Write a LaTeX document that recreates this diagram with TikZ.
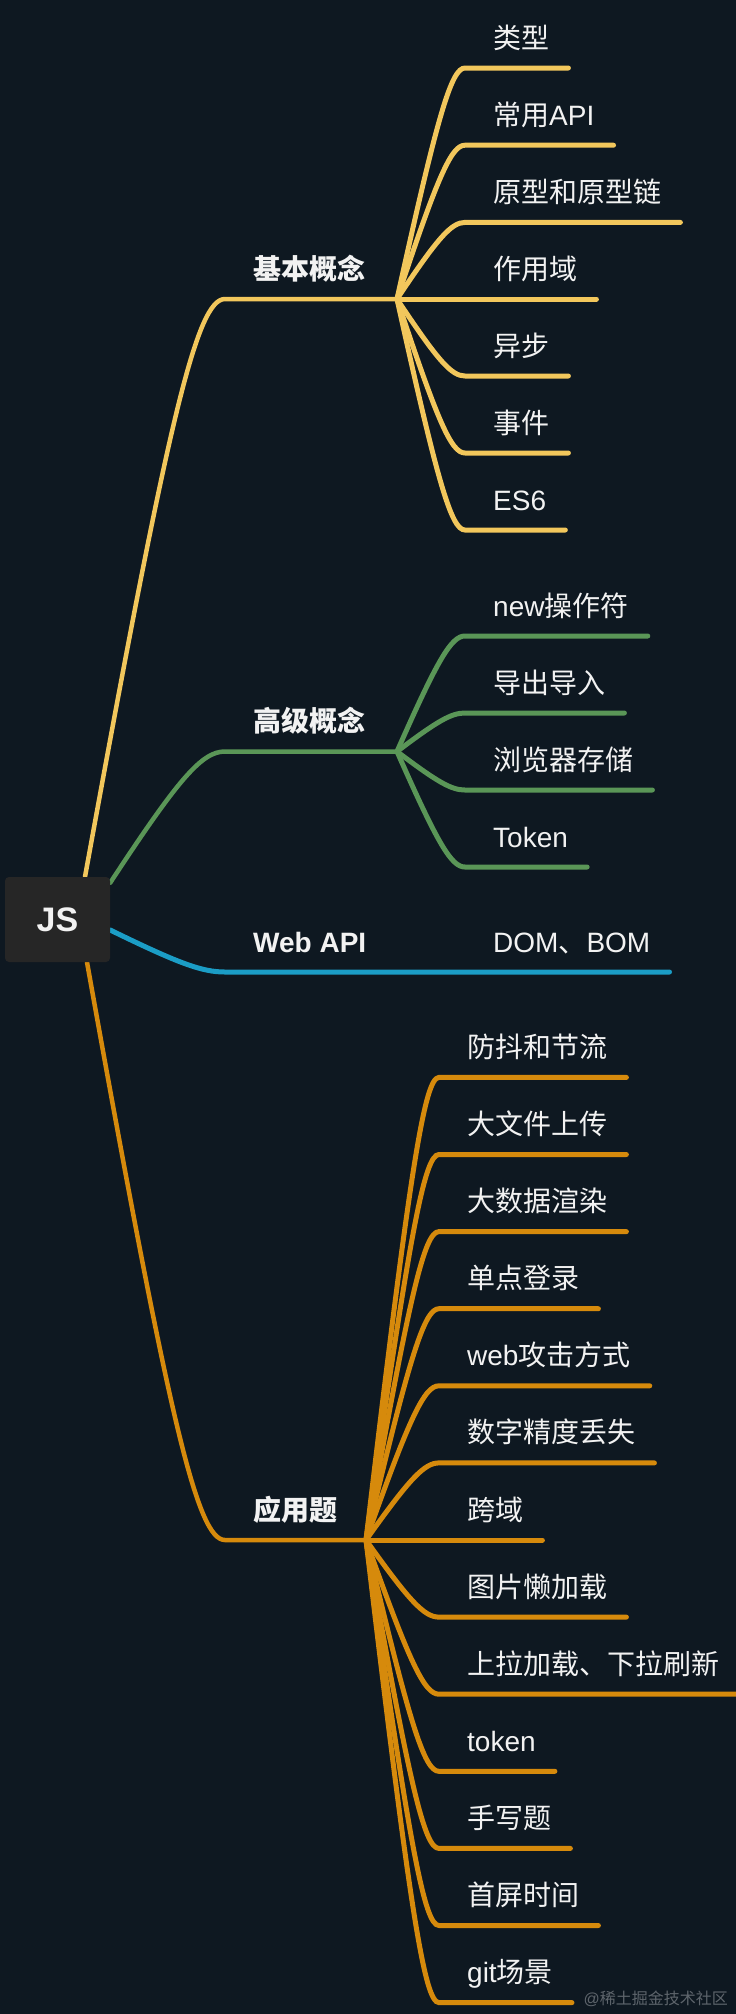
\documentclass[tikz,border=0pt]{standalone}
\usepackage{fontspec}
\setmainfont{Liberation Sans}
\newfontfamily\cjk{Noto Sans CJK SC}
\usetikzlibrary{calc}
\pgfdeclarelayer{bg}
\pgfsetlayers{bg,main}
\definecolor{bgc}{HTML}{0E1821}
\definecolor{yel}{HTML}{F2C75C}
\definecolor{grn}{HTML}{5A9657}
\definecolor{blu}{HTML}{1B9DC6}
\definecolor{org}{HTML}{D68A0C}
\definecolor{boxc}{HTML}{262626}
\definecolor{txt}{HTML}{F2F2F2}
\definecolor{wmc}{HTML}{5E656C}
\newcommand\zh[1]{{\cjk #1}}
% style, from, corner, end
\newcommand\branch[4]{%
  \draw[#1] let \p1=(#2), \p2=(#3) in (\p1) .. controls ({\x1+0.6*(\x2-\x1)},{\y1+0.8*(\y2-\y1)}) and ({\x2-0.2*(\x2-\x1)},\y2) .. (\p2) -- (#4);}
% style, hub, name, start x, y, text
\newcommand\kid[6]{%
  \coordinate (#3s) at (#4,#5);
  \node[lbl, anchor=base west] (#3) at ($(#3s)+(28,-20)$) {#6};
  \coordinate (#3e) at ($(#3s -| #3.east)+(19,0)$);
  \branch{#1}{#2}{#3s}{#3e}}
\begin{document}
\begin{tikzpicture}[x=1pt,y=-1pt,
  lbl/.style={text=txt, font=\fontsize{28}{32}\selectfont, inner sep=0pt},
  top/.style={text=txt, font=\bfseries\fontsize{28}{32}\selectfont, inner sep=0pt, anchor=base west},
  trunk/.style={line width=4.5pt, line cap=round},
  twig/.style={line width=5pt, line cap=round},
  jsbox/.style={fill=boxc, rounded corners=4pt, minimum width=105pt, minimum height=85pt, text=txt, font=\bfseries\fontsize{34}{38}\selectfont, inner sep=0pt}]
\begin{pgfonlayer}{bg}
\fill[bgc] (0,0) rectangle (736,2014);
\end{pgfonlayer}
\useasboundingbox (0,0) rectangle (736,2014);

\node[jsbox] (js) at (57.5,919.5) {JS};
\coordinate (y0) at ($(js.north)+(27.5,0)$);
\coordinate (g0) at ($(js.north east)+(0,6)$);
\coordinate (b0) at ($(js.east)+(0,10.5)$);
\coordinate (o0) at ($(js.south)+(29.5,0)$);

% ---- 基本概念
\coordinate (c1) at (225,299);
\coordinate (h1) at (397,299);
\node[top] (l1) at (253,279) {\zh{基本概念}};
\begin{pgfonlayer}{bg}
\branch{trunk,yel}{y0}{c1}{h1}
\end{pgfonlayer}
\kid{twig,yel}{h1}{a1}{465}{68}{\zh{类型}}
\kid{twig,yel}{h1}{a2}{465}{145.2}{\zh{常用}API}
\kid{twig,yel}{h1}{a3}{465}{222.4}{\zh{原型和原型链}}
\kid{twig,yel}{h1}{a4}{465}{299}{\zh{作用域}}
\kid{twig,yel}{h1}{a5}{465}{376}{\zh{异步}}
\kid{twig,yel}{h1}{a6}{465}{453}{\zh{事件}}
\kid{twig,yel}{h1}{a7}{465}{530}{ES6}

% ---- 高级概念
\coordinate (c2) at (225,751.5);
\coordinate (h2) at (397,751.5);
\node[top] (l2) at (253,731.5) {\zh{高级概念}};
\begin{pgfonlayer}{bg}
\branch{trunk,grn}{g0}{c2}{h2}
\end{pgfonlayer}
\kid{twig,grn}{h2}{b1}{465}{636}{new\zh{操作符}}
\kid{twig,grn}{h2}{b2}{465}{713}{\zh{导出导入}}
\kid{twig,grn}{h2}{b3}{465}{790}{\zh{浏览器存储}}
\kid{twig,grn}{h2}{b4}{465}{867}{Token}

% ---- Web API
\coordinate (c3) at (225,972);
\node[top] (l3) at (253,952) {Web API};
\node[lbl, anchor=base west] (d1) at (493,952) {DOM\zh{、}BOM};
\coordinate (d1e) at ($(c3 -| d1.east)+(19,0)$);
\begin{pgfonlayer}{bg}
\branch{twig,blu}{b0}{c3}{d1e}
\end{pgfonlayer}

% ---- 应用题
\coordinate (c4) at (225,1540);
\coordinate (h4) at (366,1540);
\node[top] (l4) at (253,1520) {\zh{应用题}};
\begin{pgfonlayer}{bg}
\branch{trunk,org}{o0}{c4}{h4}
\end{pgfonlayer}
\kid{twig,org}{h4}{e1}{439}{1077.4}{\zh{防抖和节流}}
\kid{twig,org}{h4}{e2}{439}{1154.5}{\zh{大文件上传}}
\kid{twig,org}{h4}{e3}{439}{1231.6}{\zh{大数据渲染}}
\kid{twig,org}{h4}{e4}{439}{1308.7}{\zh{单点登录}}
\kid{twig,org}{h4}{e5}{439}{1385.8}{web\zh{攻击方式}}
\kid{twig,org}{h4}{e6}{439}{1462.9}{\zh{数字精度丢失}}
\kid{twig,org}{h4}{e7}{439}{1540}{\zh{跨域}}
\kid{twig,org}{h4}{e8}{439}{1617.1}{\zh{图片懒加载}}
\kid{twig,org}{h4}{e9}{439}{1694.2}{\zh{上拉加载、下拉刷新}}
\kid{twig,org}{h4}{e10}{439}{1771.3}{token}
\kid{twig,org}{h4}{e11}{439}{1848.4}{\zh{手写题}}
\kid{twig,org}{h4}{e12}{439}{1925.5}{\zh{首屏时间}}
\kid{twig,org}{h4}{e13}{439}{2002.6}{git\zh{场景}}

\node[anchor=base east, text=wmc, font=\fontsize{16}{18}\selectfont, inner sep=0pt] (wm) at (728,2004) {@\zh{稀土掘金技术社区}};
\end{tikzpicture}
\end{document}
